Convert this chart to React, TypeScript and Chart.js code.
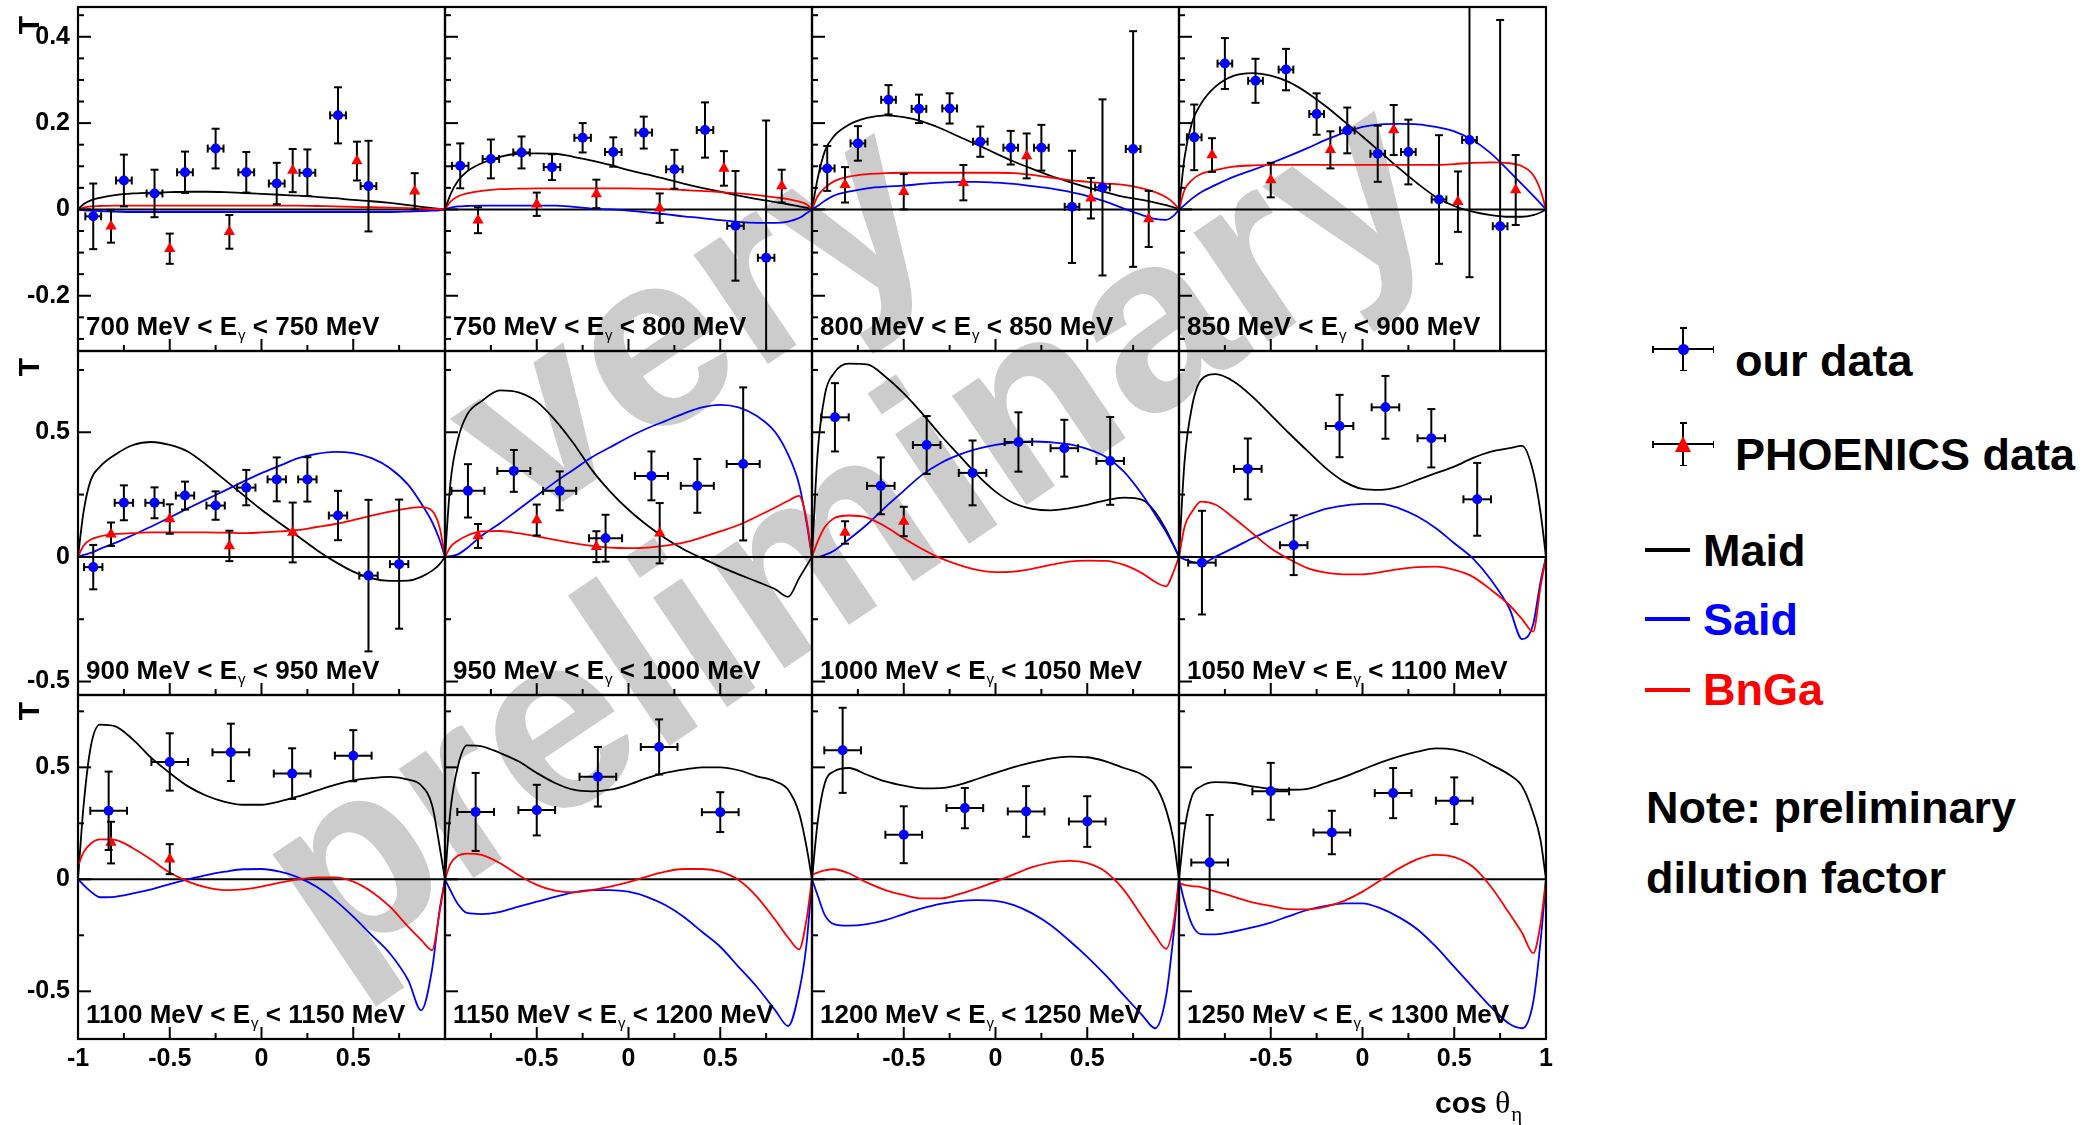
import React, { useEffect, useRef } from "react";
import { Chart, registerables } from "chart.js";

Chart.register(...registerables);

const FONT = '"Liberation Sans", Arial, Helvetica, sans-serif';
const SERIF = '"Liberation Serif", "DejaVu Serif", serif';

// ---------------- shared axes / labels ----------------
const cosGrid = [-1, -0.97, -0.93, -0.88, -0.8, -0.7, -0.6, -0.5, -0.4, -0.3, -0.2, -0.1, 0, 0.1, 0.2, 0.3, 0.4, 0.5, 0.6, 0.7, 0.8, 0.87, 0.93, 0.97, 1];
const energyLow = [700, 750, 800, 850, 900, 950, 1000, 1050, 1100, 1150, 1200, 1250];
const energyHigh = [750, 800, 850, 900, 950, 1000, 1050, 1100, 1150, 1200, 1250, 1300];
const rowRanges = [[-0.328, 0.469], [-0.554, 0.826], [-0.713, 0.823]];
const yTickLabelsByRow = [[0.4, 0.2, 0, -0.2], [0.5, 0, -0.5], [0.5, 0, -0.5]];
const xTickLabelsByCol = [[-1, -0.5, 0, 0.5], [-0.5, 0, 0.5], [-0.5, 0, 0.5], [-0.5, 0, 0.5, 1]];
const ourXErr = [0.043, 0.045, 0.04, 0.04, 0.05, 0.09, 0.075, 0.075, 0.1, 0.1, 0.1, 0.1];

const cos12 = [-0.917, -0.75, -0.583, -0.417, -0.25, -0.083, 0.083, 0.25, 0.417, 0.583, 0.75];
const cos8 = [-0.875, -0.625, -0.375, -0.125, 0.125, 0.375, 0.625];
const cos6 = [-0.833, -0.5, -0.167, 0.167, 0.5];
const phoCos = [-0.82, -0.5, -0.175, 0.17, 0.52, 0.835];

// ---------------- model curves ----------------
const maid700 = [0, 0.012, 0.021, 0.027, 0.033, 0.037, 0.039, 0.040, 0.041, 0.041, 0.040, 0.038, 0.036, 0.034, 0.032, 0.029, 0.026, 0.022, 0.019, 0.015, 0.010, 0.006, 0.003, 0.001, 0];
const said700 = [0, -0.002, -0.003, -0.004, -0.005, -0.006, -0.006, -0.006, -0.006, -0.006, -0.006, -0.006, -0.006, -0.006, -0.006, -0.006, -0.006, -0.006, -0.006, -0.006, -0.005, -0.004, -0.003, -0.002, 0];
const bnga700 = [0, 0.004, 0.007, 0.008, 0.009, 0.009, 0.009, 0.009, 0.009, 0.009, 0.009, 0.009, 0.009, 0.009, 0.009, 0.008, 0.007, 0.006, 0.005, 0.004, 0.003, 0.002, 0.001, 0.001, 0];

const maid750 = [0, 0.035, 0.066, 0.088, 0.107, 0.122, 0.129, 0.130, 0.129, 0.122, 0.113, 0.103, 0.091, 0.081, 0.071, 0.060, 0.050, 0.041, 0.032, 0.024, 0.017, 0.012, 0.007, 0.004, 0];
const said750 = [0, 0.004, 0.007, 0.008, 0.009, 0.009, 0.009, 0.009, 0.009, 0.006, 0.002, 0, -0.003, -0.007, -0.011, -0.016, -0.020, -0.025, -0.029, -0.031, -0.031, -0.028, -0.020, -0.009, 0];
const bnga750 = [0, 0.018, 0.030, 0.037, 0.043, 0.047, 0.048, 0.049, 0.049, 0.049, 0.049, 0.049, 0.049, 0.048, 0.047, 0.045, 0.043, 0.040, 0.037, 0.033, 0.028, 0.024, 0.018, 0.012, 0];

const maid800 = [0, 0.07, 0.135, 0.17, 0.196, 0.212, 0.218, 0.214, 0.204, 0.188, 0.169, 0.150, 0.130, 0.111, 0.094, 0.078, 0.064, 0.051, 0.040, 0.029, 0.022, 0.016, 0.010, 0.005, 0];
const said800 = [0, 0.008, 0.020, 0.032, 0.041, 0.049, 0.053, 0.055, 0.059, 0.062, 0.064, 0.064, 0.062, 0.059, 0.054, 0.049, 0.041, 0.031, 0.018, 0.002, -0.013, -0.022, -0.024, -0.015, 0];
const bnga800 = [0, 0.030, 0.050, 0.065, 0.076, 0.082, 0.084, 0.085, 0.085, 0.085, 0.085, 0.085, 0.085, 0.084, 0.080, 0.074, 0.068, 0.064, 0.060, 0.057, 0.049, 0.040, 0.028, 0.015, 0];

const maid850 = [0, 0.12, 0.20, 0.245, 0.285, 0.310, 0.316, 0.310, 0.295, 0.270, 0.239, 0.204, 0.169, 0.132, 0.095, 0.060, 0.029, 0.008, -0.005, -0.013, -0.017, -0.017, -0.013, -0.007, 0];
const said850 = [0, 0.010, 0.025, 0.040, 0.057, 0.076, 0.091, 0.107, 0.124, 0.142, 0.161, 0.178, 0.191, 0.197, 0.198, 0.197, 0.191, 0.181, 0.161, 0.130, 0.088, 0.058, 0.032, 0.014, 0];
const bnga850 = [0, 0.045, 0.068, 0.082, 0.091, 0.099, 0.102, 0.103, 0.103, 0.103, 0.103, 0.103, 0.103, 0.103, 0.103, 0.103, 0.103, 0.105, 0.108, 0.109, 0.107, 0.100, 0.080, 0.045, 0];

const maid900 = [0, 0.18, 0.309, 0.362, 0.409, 0.449, 0.461, 0.449, 0.422, 0.369, 0.309, 0.249, 0.189, 0.135, 0.082, 0.028, -0.019, -0.059, -0.086, -0.096, -0.095, -0.080, -0.055, -0.030, 0];
const said900 = [0, 0.008, 0.016, 0.032, 0.055, 0.088, 0.122, 0.158, 0.195, 0.231, 0.266, 0.302, 0.336, 0.366, 0.396, 0.413, 0.421, 0.416, 0.396, 0.356, 0.289, 0.215, 0.140, 0.070, 0];
const bnga900 = [0, 0.045, 0.070, 0.082, 0.091, 0.095, 0.098, 0.098, 0.098, 0.098, 0.097, 0.095, 0.098, 0.102, 0.108, 0.120, 0.132, 0.148, 0.166, 0.182, 0.195, 0.200, 0.185, 0.120, 0];

const maid950 = [0, 0.30, 0.47, 0.57, 0.625, 0.668, 0.66, 0.623, 0.549, 0.456, 0.349, 0.262, 0.189, 0.128, 0.075, 0.031, -0.005, -0.039, -0.070, -0.099, -0.130, -0.160, -0.085, -0.036, 0];
const said950 = [0, 0.003, 0.010, 0.035, 0.085, 0.135, 0.19, 0.245, 0.30, 0.35, 0.40, 0.44, 0.48, 0.515, 0.545, 0.575, 0.60, 0.61, 0.60, 0.565, 0.50, 0.41, 0.29, 0.14, 0];
const bnga950 = [0, 0.040, 0.065, 0.085, 0.102, 0.104, 0.095, 0.082, 0.068, 0.055, 0.044, 0.037, 0.035, 0.037, 0.045, 0.057, 0.078, 0.102, 0.128, 0.162, 0.198, 0.225, 0.245, 0.15, 0];

const maid1000 = [0, 0.41, 0.65, 0.737, 0.775, 0.772, 0.723, 0.656, 0.576, 0.489, 0.409, 0.329, 0.262, 0.215, 0.193, 0.187, 0.195, 0.209, 0.227, 0.238, 0.229, 0.18, 0.108, 0.048, 0];
const said1000 = [0, 0, 0.008, 0.025, 0.07, 0.13, 0.2, 0.265, 0.329, 0.376, 0.409, 0.433, 0.449, 0.459, 0.463, 0.46, 0.452, 0.433, 0.402, 0.342, 0.249, 0.17, 0.10, 0.045, 0];
const bnga1000 = [0, 0.06, 0.12, 0.155, 0.166, 0.158, 0.122, 0.075, 0.032, -0.005, -0.032, -0.052, -0.061, -0.059, -0.048, -0.032, -0.019, -0.015, -0.016, -0.032, -0.066, -0.100, -0.118, -0.060, 0];

const maid1050 = [0, 0.38, 0.60, 0.71, 0.733, 0.703, 0.643, 0.570, 0.496, 0.425, 0.356, 0.302, 0.273, 0.269, 0.282, 0.309, 0.336, 0.362, 0.396, 0.422, 0.436, 0.445, 0.342, 0.18, 0];
const said1050 = [0, -0.010, -0.020, -0.025, 0.001, 0.037, 0.075, 0.108, 0.139, 0.168, 0.193, 0.206, 0.213, 0.213, 0.195, 0.162, 0.115, 0.055, -0.005, -0.092, -0.206, -0.330, -0.270, -0.100, 0];
const bnga1050 = [0, 0.12, 0.18, 0.222, 0.209, 0.155, 0.095, 0.035, -0.009, -0.045, -0.063, -0.070, -0.070, -0.061, -0.049, -0.041, -0.039, -0.052, -0.079, -0.132, -0.193, -0.250, -0.300, -0.120, 0];

const maid1100 = [0, 0.325, 0.594, 0.691, 0.684, 0.624, 0.542, 0.475, 0.415, 0.373, 0.346, 0.333, 0.333, 0.348, 0.370, 0.396, 0.422, 0.442, 0.452, 0.457, 0.445, 0.420, 0.330, 0.150, 0];
const said1100 = [0, -0.025, -0.055, -0.080, -0.078, -0.063, -0.045, -0.021, 0, 0.019, 0.034, 0.045, 0.046, 0.034, 0.009, -0.033, -0.093, -0.167, -0.249, -0.331, -0.451, -0.585, -0.400, -0.140, 0];
const bnga1100 = [0.06, 0.12, 0.16, 0.178, 0.176, 0.139, 0.087, 0.030, -0.010, -0.036, -0.048, -0.045, -0.033, -0.015, 0, 0.009, 0.009, -0.010, -0.055, -0.122, -0.212, -0.270, -0.316, -0.150, 0];

const maid1150 = [0, 0.31, 0.504, 0.598, 0.594, 0.564, 0.527, 0.475, 0.430, 0.400, 0.393, 0.400, 0.422, 0.452, 0.475, 0.490, 0.500, 0.500, 0.487, 0.460, 0.437, 0.400, 0.295, 0.146, 0];
const said1150 = [0, -0.05, -0.11, -0.15, -0.155, -0.145, -0.122, -0.100, -0.078, -0.058, -0.048, -0.048, -0.055, -0.078, -0.115, -0.167, -0.234, -0.301, -0.391, -0.481, -0.585, -0.655, -0.500, -0.290, 0];
const bnga1150 = [0, 0.07, 0.105, 0.115, 0.109, 0.072, 0.019, -0.025, -0.051, -0.058, -0.048, -0.033, -0.013, 0.012, 0.034, 0.046, 0.046, 0.034, -0.003, -0.078, -0.182, -0.260, -0.313, -0.180, 0];

const maid1200 = [0, 0.25, 0.43, 0.482, 0.497, 0.467, 0.437, 0.418, 0.406, 0.407, 0.422, 0.448, 0.475, 0.501, 0.522, 0.539, 0.548, 0.545, 0.527, 0.497, 0.467, 0.420, 0.310, 0.176, 0];
const said1200 = [0, -0.07, -0.16, -0.20, -0.207, -0.200, -0.182, -0.155, -0.130, -0.110, -0.097, -0.093, -0.096, -0.115, -0.152, -0.204, -0.272, -0.346, -0.428, -0.518, -0.607, -0.665, -0.520, -0.250, 0];
const bnga1200 = [0.02, 0.03, 0.04, 0.045, 0.027, -0.015, -0.048, -0.070, -0.085, -0.085, -0.066, -0.040, -0.010, 0.022, 0.054, 0.075, 0.082, 0.072, 0.034, -0.048, -0.167, -0.250, -0.310, -0.200, 0];

const maid1250 = [0, 0.22, 0.37, 0.415, 0.434, 0.430, 0.415, 0.404, 0.400, 0.404, 0.430, 0.457, 0.490, 0.522, 0.549, 0.570, 0.585, 0.579, 0.554, 0.512, 0.467, 0.415, 0.296, 0.176, 0];
const said1250 = [0, -0.10, -0.20, -0.245, -0.246, -0.233, -0.215, -0.193, -0.164, -0.137, -0.119, -0.107, -0.107, -0.130, -0.170, -0.224, -0.301, -0.391, -0.481, -0.570, -0.645, -0.665, -0.550, -0.280, 0];
const bnga1250 = [-0.018, -0.025, -0.030, -0.035, -0.055, -0.078, -0.103, -0.119, -0.133, -0.134, -0.122, -0.096, -0.055, -0.003, 0.049, 0.090, 0.109, 0.099, 0.057, -0.033, -0.152, -0.240, -0.330, -0.200, 0];

// ---------------- our data (blue) ----------------
const ourT700 = [-0.016, 0.067, 0.037, 0.086, 0.141, 0.086, 0.060, 0.085, 0.218, 0.054];
const ourE700 = [0.076, 0.060, 0.055, 0.048, 0.046, 0.047, 0.048, 0.054, 0.065, 0.105];
const ourT750 = [0.101, 0.117, 0.132, 0.098, 0.166, 0.133, 0.178, 0.093, 0.184, -0.038, -0.112];
const ourE750 = [0.052, 0.045, 0.037, 0.030, 0.034, 0.034, 0.037, 0.045, 0.064, 0.127, 0.318];
const ourT800 = [0.095, 0.153, 0.254, 0.233, 0.234, 0.157, 0.143, 0.143, 0.006, 0.051, 0.140];
const ourE800 = [0.052, 0.040, 0.034, 0.033, 0.035, 0.035, 0.039, 0.053, 0.130, 0.204, 0.273];
const ourT850 = [0.167, 0.338, 0.298, 0.324, 0.221, 0.183, 0.129, 0.133, 0.023, 0.161, -0.039];
const ourE850 = [0.076, 0.059, 0.051, 0.048, 0.048, 0.053, 0.065, 0.075, 0.149, 0.318, 0.478];
const ourT900 = [-0.041, 0.217, 0.217, 0.246, 0.206, 0.278, 0.311, 0.311, 0.166, -0.075, -0.029];
const ourE900 = [0.089, 0.070, 0.062, 0.056, 0.057, 0.071, 0.088, 0.089, 0.099, 0.304, 0.259];
const ourT950 = [0.265, 0.345, 0.265, 0.075, 0.325, 0.285, 0.373];
const ourE950 = [0.107, 0.084, 0.078, 0.094, 0.098, 0.108, 0.307];
const ourT1000 = [0.560, 0.285, 0.449, 0.337, 0.461, 0.436, 0.385];
const ourE1000 = [0.137, 0.114, 0.116, 0.130, 0.119, 0.114, 0.176];
const ourT1050 = [-0.023, 0.353, 0.047, 0.525, 0.600, 0.476, 0.231];
const ourE1050 = [0.208, 0.122, 0.120, 0.125, 0.126, 0.117, 0.146];
const ourT1100 = [0.306, 0.524, 0.567, 0.472, 0.552];
const ourE1100 = [0.175, 0.128, 0.128, 0.113, 0.114];
const ourT1150 = [0.301, 0.309, 0.458, 0.591, 0.300];
const ourE1150 = [0.174, 0.113, 0.133, 0.123, 0.089];
const ourT1200 = [0.576, 0.199, 0.318, 0.303, 0.258];
const ourE1200 = [0.190, 0.127, 0.090, 0.113, 0.113];
const ourT1250 = [0.075, 0.393, 0.209, 0.385, 0.351];
const ourE1250 = [0.212, 0.127, 0.097, 0.112, 0.104];

// ---------------- PHOENICS data (red) ----------------
const phoT700 = [-0.039, -0.091, -0.052, 0.090, 0.112, 0.042];
const phoE700 = [0.038, 0.035, 0.039, 0.050, 0.045, 0.042];
const phoT750 = [-0.025, 0.012, 0.036, 0.003, 0.095, 0.054];
const phoE750 = [0.030, 0.027, 0.033, 0.034, 0.040, 0.038];
const phoT800 = [0.057, 0.041, 0.062, 0.124, 0.026, -0.022];
const phoE800 = [0.041, 0.041, 0.041, 0.052, 0.047, 0.065];
const phoT850 = [0.126, 0.068, 0.138, 0.184, 0.018, 0.045];
const phoE850 = [0.039, 0.040, 0.043, 0.058, 0.070, 0.081];
const phoT900 = [0.091, 0.152, 0.044, 0.098];
const phoE900 = [0.047, 0.059, 0.061, 0.120];
const phoT950 = [0.084, 0.148, 0.041, 0.095];
const phoE950 = [0.048, 0.062, 0.062, 0.121];
const phoT1000 = [0.098, 0.142];
const phoE1000 = [0.045, 0.059];
const phoT1100 = [0.164, 0.090];
const phoE1100 = [0.093, 0.067];

type PanelData = {
  maid: number[]; said: number[]; bnga: number[];
  ourCos: number[]; ourT: number[]; ourE: number[];
  phoT: number[]; phoE: number[];
};

const panels: PanelData[] = [
  { maid: maid700, said: said700, bnga: bnga700, ourCos: cos12, ourT: ourT700, ourE: ourE700, phoT: phoT700, phoE: phoE700 },
  { maid: maid750, said: said750, bnga: bnga750, ourCos: cos12, ourT: ourT750, ourE: ourE750, phoT: phoT750, phoE: phoE750 },
  { maid: maid800, said: said800, bnga: bnga800, ourCos: cos12, ourT: ourT800, ourE: ourE800, phoT: phoT800, phoE: phoE800 },
  { maid: maid850, said: said850, bnga: bnga850, ourCos: cos12, ourT: ourT850, ourE: ourE850, phoT: phoT850, phoE: phoE850 },
  { maid: maid900, said: said900, bnga: bnga900, ourCos: cos12, ourT: ourT900, ourE: ourE900, phoT: phoT900, phoE: phoE900 },
  { maid: maid950, said: said950, bnga: bnga950, ourCos: cos8, ourT: ourT950, ourE: ourE950, phoT: phoT950, phoE: phoE950 },
  { maid: maid1000, said: said1000, bnga: bnga1000, ourCos: cos8, ourT: ourT1000, ourE: ourE1000, phoT: phoT1000, phoE: phoE1000 },
  { maid: maid1050, said: said1050, bnga: bnga1050, ourCos: cos8, ourT: ourT1050, ourE: ourE1050, phoT: [], phoE: [] },
  { maid: maid1100, said: said1100, bnga: bnga1100, ourCos: cos6, ourT: ourT1100, ourE: ourE1100, phoT: phoT1100, phoE: phoE1100 },
  { maid: maid1150, said: said1150, bnga: bnga1150, ourCos: cos6, ourT: ourT1150, ourE: ourE1150, phoT: [], phoE: [] },
  { maid: maid1200, said: said1200, bnga: bnga1200, ourCos: cos6, ourT: ourT1200, ourE: ourE1200, phoT: [], phoE: [] },
  { maid: maid1250, said: said1250, bnga: bnga1250, ourCos: cos6, ourT: ourT1250, ourE: ourE1250, phoT: [], phoE: [] },
];

// ---------------- layout ----------------
const FRAME_X0 = 78;
const FRAME_Y0 = 7;
const FRAME_W = 367;
const FRAME_H = 344;

function geometry(index: number) {
  const row = Math.floor(index / 4);
  const col = index % 4;
  const fx = FRAME_X0 + col * FRAME_W;
  const fy = FRAME_Y0 + row * FRAME_H;
  const padL = col === 0 ? fx : 8;
  const padR = col === 3 ? 26 : 8;
  const padT = row === 0 ? fy : 8;
  const padB = row === 2 ? 86 : 8;
  return {
    row, col, padL, padR, padT, padB,
    ox: fx - padL, oy: fy - padT,
    w: padL + FRAME_W + padR, h: padT + FRAME_H + padB,
  };
}

function line(ctx: CanvasRenderingContext2D, x1: number, y1: number, x2: number, y2: number) {
  ctx.beginPath();
  ctx.moveTo(x1, y1);
  ctx.lineTo(x2, y2);
  ctx.stroke();
}

function makeDeco(index: number) {
  const g = geometry(index);
  const { row, col, ox, oy } = g;
  return {
    id: "panelDeco" + index,
    beforeDatasetsDraw(chart: any) {
      const { ctx, chartArea: a, scales } = chart;
      const y0 = scales.y.getPixelForValue(0);
      ctx.save();
      ctx.strokeStyle = "#000";
      ctx.lineWidth = 2;
      line(ctx, a.left, y0, a.right, y0);
      ctx.restore();
    },
    beforeDatasetDraw(chart: any, args: any) {
      const ds: any = chart.data.datasets[args.index];
      if (!ds.errY) return;
      const { ctx, chartArea: a, scales } = chart;
      const xs = scales.x, ys = scales.y;
      const cap = 4;
      ctx.save();
      ctx.beginPath();
      ctx.rect(a.left, a.top, a.right - a.left, a.bottom - a.top);
      ctx.clip();
      ctx.strokeStyle = "#000";
      ctx.lineWidth = 2;
      ds.data.forEach((pt: any, i: number) => {
        const px = xs.getPixelForValue(pt.x);
        const py = ys.getPixelForValue(pt.y);
        const e = ds.errY[i];
        const yt = ys.getPixelForValue(pt.y + e);
        const yb = ys.getPixelForValue(pt.y - e);
        line(ctx, px, yt, px, yb);
        line(ctx, px - cap, yt, px + cap, yt);
        line(ctx, px - cap, yb, px + cap, yb);
        if (ds.errX) {
          const xl = xs.getPixelForValue(pt.x - ds.errX);
          const xr = xs.getPixelForValue(pt.x + ds.errX);
          line(ctx, xl, py, xr, py);
          line(ctx, xl, py - cap, xl, py + cap);
          line(ctx, xr, py - cap, xr, py + cap);
        }
      });
      ctx.restore();
    },
    afterDatasetsDraw(chart: any) {
      const { ctx, chartArea: a, scales } = chart;
      const xs = scales.x, ys = scales.y;
      ctx.save();
      ctx.strokeStyle = "#000";
      ctx.fillStyle = "#000";
      ctx.lineWidth = 2;
      // y ticks (inside, left edge)
      const minor = row === 0 ? 0.05 : 0.25;
      const major = row === 0 ? 0.2 : 0.5;
      for (let k = Math.ceil(ys.min / minor - 1e-9); k * minor <= ys.max + 1e-9; k++) {
        const v = k * minor;
        const isMajor = Math.abs(v / major - Math.round(v / major)) < 1e-6;
        const py = ys.getPixelForValue(v);
        line(ctx, a.left, py, a.left + (isMajor ? 13 : 6), py);
      }
      // x ticks (inside, bottom edge)
      for (let k = -4; k <= 4; k++) {
        const v = k * 0.25;
        const px = xs.getPixelForValue(v);
        line(ctx, px, a.bottom, px, a.bottom - (k % 2 === 0 ? 12 : 6));
      }
      // frame
      ctx.lineWidth = 2.2;
      ctx.strokeRect(a.left, a.top, a.right - a.left, a.bottom - a.top);

      // y tick labels
      if (col === 0) {
        ctx.font = `bold 25px ${FONT}`;
        ctx.textAlign = "right";
        ctx.textBaseline = "middle";
        yTickLabelsByRow[row].forEach((v) => {
          ctx.fillText(String(v), a.left - 8, ys.getPixelForValue(v));
        });
        // axis title "T"
        ctx.save();
        ctx.translate(31 - ox, [25, 367, 711][row] - oy);
        ctx.rotate(-Math.PI / 2);
        ctx.font = `bold 30px ${FONT}`;
        ctx.textAlign = "center";
        ctx.textBaseline = "middle";
        ctx.fillText("T", 0, 0);
        ctx.restore();
      }
      // x tick labels
      if (row === 2) {
        ctx.font = `bold 25px ${FONT}`;
        ctx.textAlign = "center";
        ctx.textBaseline = "middle";
        xTickLabelsByCol[col].forEach((v) => {
          ctx.fillText(String(v), xs.getPixelForValue(v), a.bottom + 20);
        });
        if (col === 3) {
          ctx.textAlign = "left";
          ctx.textBaseline = "alphabetic";
          let x = 1435 - ox;
          const yb = 1113 - oy;
          ctx.font = `bold 30px ${FONT}`;
          ctx.fillText("cos ", x, yb);
          x += ctx.measureText("cos ").width;
          ctx.font = `32px ${SERIF}`;
          ctx.fillText("θ", x, yb);
          x += ctx.measureText("θ").width;
          ctx.font = `21px ${SERIF}`;
          ctx.fillText("η", x + 1, yb + 8);
        }
      }
      // panel label
      ctx.textAlign = "left";
      ctx.textBaseline = "alphabetic";
      const lx = a.left + 8;
      const lb = a.bottom - 16;
      const s1 = `${energyLow[index]} MeV < E`;
      const s2 = ` < ${energyHigh[index]} MeV`;
      ctx.font = `bold 26px ${FONT}`;
      ctx.fillText(s1, lx, lb);
      let x = lx + ctx.measureText(s1).width;
      ctx.font = `15px ${FONT}`;
      ctx.fillText("γ", x + 1, lb + 5);
      x += ctx.measureText("γ").width + 1;
      ctx.font = `bold 26px ${FONT}`;
      ctx.fillText(s2, x, lb);
      ctx.restore();
    },
  };
}

function Panel({ index }: { index: number }) {
  const ref = useRef<HTMLCanvasElement>(null);
  const g = geometry(index);
  useEffect(() => {
    const p = panels[index];
    const range = rowRanges[g.row];
    const datasets: any[] = [
      {
        label: "our data",
        data: p.ourCos.slice(0, p.ourT.length).map((x, i) => ({ x, y: p.ourT[i] })),
        pointStyle: "circle",
        pointRadius: 5,
        pointBackgroundColor: "#0000ff",
        pointBorderWidth: 0,
        showLine: false,
        errY: p.ourE,
        errX: ourXErr[index],
      },
      {
        label: "PHOENICS data",
        data: phoCos.slice(0, p.phoT.length).map((x, i) => ({ x, y: p.phoT[i] })),
        pointStyle: "triangle",
        pointRadius: 6.5,
        pointBackgroundColor: "#ff0000",
        pointBorderWidth: 0,
        showLine: false,
        errY: p.phoE,
      },
      {
        label: "BnGa",
        data: cosGrid.map((x, i) => ({ x, y: p.bnga[i] })),
        showLine: true,
        pointRadius: 0,
        borderColor: "#ff0000",
        borderWidth: 1.8,
        cubicInterpolationMode: "monotone",
      },
      {
        label: "Said",
        data: cosGrid.map((x, i) => ({ x, y: p.said[i] })),
        showLine: true,
        pointRadius: 0,
        borderColor: "#0000ff",
        borderWidth: 1.8,
        cubicInterpolationMode: "monotone",
      },
      {
        label: "Maid",
        data: cosGrid.map((x, i) => ({ x, y: p.maid[i] })),
        showLine: true,
        pointRadius: 0,
        borderColor: "#000000",
        borderWidth: 1.8,
        cubicInterpolationMode: "monotone",
      },
    ];
    const chart = new Chart(ref.current as HTMLCanvasElement, {
      type: "scatter",
      data: { datasets },
      options: {
        responsive: false,
        animation: false,
        devicePixelRatio: 1,
        events: [],
        layout: { padding: { left: g.padL, right: g.padR, top: g.padT, bottom: g.padB } },
        plugins: { legend: { display: false }, tooltip: { enabled: false } },
        scales: {
          x: { type: "linear", min: -1, max: 1, display: false },
          y: { type: "linear", min: range[0], max: range[1], display: false },
        },
      } as any,
      plugins: [makeDeco(index)],
    });
    return () => chart.destroy();
  }, [index]);
  return (
    <canvas
      ref={ref}
      width={g.w}
      height={g.h}
      style={{ position: "absolute", left: g.ox, top: g.oy, width: g.w, height: g.h, zIndex: 1 }}
    />
  );
}

function Txt({ x, baseline, size, color = "#000", weight = "bold", family = FONT, children }: any) {
  return (
    <div
      style={{
        position: "absolute",
        left: x,
        top: baseline - size * 0.8465,
        font: `${weight} ${size}px ${family}`,
        lineHeight: `${size}px`,
        color,
        whiteSpace: "nowrap",
        zIndex: 2,
      }}
    >
      {children}
    </div>
  );
}

function Bar({ x, y, w, h, color = "#000" }: any) {
  return <div style={{ position: "absolute", left: x, top: y, width: w, height: h, background: color, zIndex: 2 }} />;
}

function ErrCross({ cx, cy }: { cx: number; cy: number }) {
  return (
    <>
      <Bar x={cx - 31} y={cy - 0.75} w={62} h={1.5} />
      <Bar x={cx - 31} y={cy - 3.5} w={1.5} h={7} />
      <Bar x={cx + 29.5} y={cy - 3.5} w={1.5} h={7} />
      <Bar x={cx - 0.75} y={cy - 22} w={1.5} h={44} />
      <Bar x={cx - 3.5} y={cy - 22} w={7} h={1.5} />
      <Bar x={cx - 3.5} y={cy + 20.5} w={7} h={1.5} />
    </>
  );
}

function Legend() {
  return (
    <>
      <ErrCross cx={1683} cy={349} />
      <div style={{ position: "absolute", left: 1677.5, top: 343.5, width: 11, height: 11, borderRadius: 6, background: "#0000ff", zIndex: 2 }} />
      <Txt x={1735} baseline={376} size={45}>our data</Txt>

      <ErrCross cx={1683} cy={444} />
      <div
        style={{
          position: "absolute", left: 1674.5, top: 436, width: 0, height: 0,
          borderLeft: "8.5px solid transparent", borderRight: "8.5px solid transparent",
          borderBottom: "16px solid #ff0000", zIndex: 2,
        }}
      />
      <Txt x={1735} baseline={470} size={45}>PHOENICS data</Txt>

      <Bar x={1645} y={548} w={45} h={4} />
      <Txt x={1703} baseline={566} size={45}>Maid</Txt>
      <Bar x={1645} y={617} w={45} h={4} color="#0000ff" />
      <Txt x={1703} baseline={635} size={45} color="#0000ff">Said</Txt>
      <Bar x={1645} y={688} w={45} h={4} color="#ff0000" />
      <Txt x={1703} baseline={705} size={45} color="#ff0000">BnGa</Txt>

      <Txt x={1646} baseline={823} size={45}>Note: preliminary</Txt>
      <Txt x={1646} baseline={893} size={45}>dilution factor</Txt>
    </>
  );
}

function Watermark() {
  const common: React.CSSProperties = {
    position: "absolute",
    transform: "translate(-50%, -50%) rotate(-34deg)",
    font: `bold 250px ${FONT}`,
    lineHeight: "250px",
    color: "#cccccc",
    whiteSpace: "nowrap",
    zIndex: 0,
  };
  return (
    <>
      <div style={{ ...common, left: 688, top: 314 }}>very</div>
      <div style={{ ...common, left: 843, top: 525 }}>preliminary</div>
    </>
  );
}

export default function App() {
  return (
    <div
      style={{
        position: "absolute",
        left: 0,
        top: 0,
        width: 2098,
        height: 1125,
        background: "#ffffff",
        overflow: "hidden",
      }}
    >
      <Watermark />
      {panels.map((_, i) => (
        <Panel key={i} index={i} />
      ))}
      <Legend />
    </div>
  );
}
